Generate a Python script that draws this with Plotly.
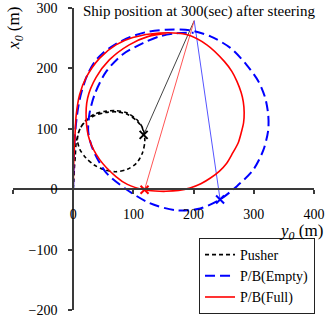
import plotly.graph_objects as go

# trajectories: (y0, x0) in metres
pusher_y = [0, 1, 2, 3.5, 5, 10, 20, 35, 53, 71, 90, 106, 116, 119, 115, 105, 90, 71, 52, 35, 21, 11, 7, 11, 20, 36, 54, 72, 90, 106, 115, 117]
pusher_x = [0, 15, 35, 55, 77, 97, 113, 124, 129, 130, 126, 115, 100, 80, 60, 43, 33, 29, 32, 40, 52, 66, 82, 99, 112, 122, 127, 128, 124, 113, 101, 90]

empty_y = [0, 0.5, 1.5, 3, 6, 10, 15, 23, 35, 50, 70, 95, 121, 154, 194, 228, 261, 288, 308, 319, 324, 324, 316, 299, 272, 244, 211, 171, 127, 88, 55, 33, 25, 27, 36, 55, 82, 116, 143, 170, 200]
empty_x = [0, 30, 60, 90, 120, 145, 165, 188, 210, 226, 240, 252, 260, 264, 263, 253, 234, 206, 178, 151, 123, 98, 65, 32, 5, -17, -32, -35, -23, 0, 27, 65, 95, 125, 158, 195, 223, 242, 253, 258, 259]

full_y = [0, 0.5, 1.5, 3, 5, 10.5, 21.6, 44, 71, 99, 143, 188, 222, 251, 263.5, 272, 279, 282.5, 284, 283, 279.5, 274, 265, 255, 243, 228, 212, 194, 175, 154, 136, 118.5, 90, 71, 44, 27, 21.6, 24, 38, 60, 93, 125, 155]
full_x = [0, 30, 60, 90, 123, 156, 185, 217, 239, 251, 258.6, 256, 239, 211.6, 195, 178.5, 160, 145, 127, 110, 95, 76.5, 60, 43, 30, 18.5, 9, 2, -2, -3.5, -3, -1, 8, 21, 49, 82, 115, 151, 185, 214, 239, 253, 258]

# positions at 300 s (y0, x0)
mark_pusher = (117, 90)
mark_empty = (244, -17)
mark_full = (118.5, -1)
label_point = (201, 279)

x_ticks = [-100, 0, 100, 200, 300, 400]
y_ticks = [-200, -100, 0, 100, 200, 300]

FONT = "Liberation Serif"

fig = go.Figure()

# pointer lines
for (py, px), col in [(mark_pusher, "#444444"), (mark_full, "#ff5555"), (mark_empty, "#5555ff")]:
    fig.add_trace(go.Scatter(x=[py, label_point[0]], y=[px, label_point[1]], mode="lines",
                             line=dict(color=col, width=1), showlegend=False, hoverinfo="skip"))

fig.add_trace(go.Scatter(x=pusher_y, y=pusher_x, mode="lines", name="Pusher",
                         line=dict(color="black", width=1.6, dash="4px,3px", shape="spline", smoothing=0.8)))
fig.add_trace(go.Scatter(x=empty_y, y=empty_x, mode="lines", name="P/B(Empty)",
                         line=dict(color="#0000ff", width=2, dash="10px,5px", shape="spline", smoothing=0.8)))
fig.add_trace(go.Scatter(x=full_y, y=full_x, mode="lines", name="P/B(Full)",
                         line=dict(color="#ff0000", width=1.6, shape="spline", smoothing=0.8)))

for (py, px), col in [(mark_pusher, "black"), (mark_full, "#ff0000"), (mark_empty, "#0000ff")]:
    fig.add_trace(go.Scatter(x=[py], y=[px], mode="markers", showlegend=False, hoverinfo="skip",
                             marker=dict(symbol="x-thin", size=8, line=dict(color=col, width=2))))

axis_common = dict(showgrid=False, zeroline=False, showline=True, linecolor="#3a3a3a", linewidth=2,
                   ticks="outside", ticklen=4, tickwidth=1.5, tickcolor="#3a3a3a", automargin=False,
                   tickfont=dict(family=FONT, size=14, color="black"), ticklabelstandoff=8)

fig.update_layout(
    width=332, height=319,
    margin=dict(l=13, r=18, t=8, b=9, autoexpand=False),
    paper_bgcolor="white", plot_bgcolor="white",
    font=dict(family=FONT, color="black"),
    xaxis=dict(range=[-100, 400], tickvals=x_ticks, anchor="free", position=0.4, **axis_common),
    yaxis=dict(range=[-200, 300], tickvals=y_ticks, anchor="free", position=0.2, **axis_common),
    legend=dict(x=0.618, y=0.1126, xanchor="left", yanchor="middle", bgcolor="white",
                bordercolor="#222222", borderwidth=1, font=dict(family=FONT, size=14, color="black"),
                tracegroupgap=0),
    annotations=[
        dict(text="Ship position at 300(sec) after steering", xref="paper", yref="paper",
             x=0.621, y=0.987, xanchor="center", yanchor="middle", showarrow=False,
             font=dict(family=FONT, size=15, color="black")),
        dict(text="<i>x<sub>0</sub></i> (m)", xref="paper", yref="paper", x=0.0066, y=0.934,
             textangle=-90, xanchor="center", yanchor="middle", showarrow=False,
             font=dict(family=FONT, size=17, color="black")),
        dict(text="<i>y<sub>0</sub></i> (m)", xref="paper", yref="paper", x=0.957, y=0.258,
             xanchor="center", yanchor="middle", showarrow=False,
             font=dict(family=FONT, size=17, color="black")),
    ],
)

fig.write_html("out.html", config={"displayModeBar": False},
               post_script="document.body.style.margin='0px';")
